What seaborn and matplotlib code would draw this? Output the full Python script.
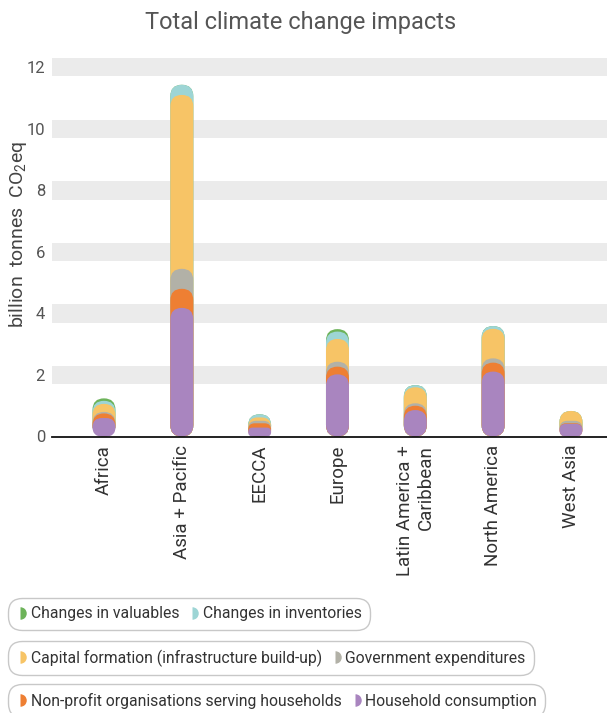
import numpy as np
import pandas as pd
import matplotlib
matplotlib.use("Agg")
import matplotlib.pyplot as plt
import seaborn as sns
from matplotlib.patches import FancyBboxPatch
from matplotlib.lines import Line2D

# ---------------- data ----------------
categories = ["Africa", "Asia + Pacific", "EECCA", "Europe",
              "Latin America +\nCaribbean", "North America", "West Asia"]
household = [0.60, 4.18, 0.29, 2.02, 0.86, 2.11, 0.41]
nonprofit = [0.15, 0.62, 0.14, 0.25, 0.14, 0.29, 0.02]
government = [0.05, 0.65, 0.08, 0.16, 0.08, 0.14, 0.08]
capital = [0.26, 5.65, 0.11, 0.74, 0.52, 0.96, 0.32]
inventories = [0.10, 0.33, 0.10, 0.24, 0.07, 0.09, 0.00]
valuables = [0.08, 0.00, 0.00, 0.08, 0.00, 0.00, 0.00]

series_names = ["Household consumption", "Non-profit organisations serving households",
                "Government expenditures", "Capital formation (infrastructure build-up)",
                "Changes in inventories", "Changes in valuables"]
series_values = [household, nonprofit, government, capital, inventories, valuables]
series_colors = ["#a985bf", "#ee7f33", "#b2b1a7", "#f7c466", "#9dd5d5", "#6db35a"]
yticks = [0, 2, 4, 6, 8, 10, 12]

# ---------------- style ----------------
sns.set_style("white")
plt.rcParams["font.family"] = ["Roboto", "DejaVu Sans"]
plt.rcParams["mathtext.fontset"] = "custom"
plt.rcParams["mathtext.rm"] = "Roboto"
plt.rcParams["mathtext.it"] = "Roboto"

W, H = 607, 713
fig = plt.figure(figsize=(W / 100, H / 100), dpi=100)
ax_left, ax_right, ax_top, ax_bottom = 52, 607, 58, 436.5
ax = fig.add_axes([ax_left / W, 1 - ax_bottom / H, (ax_right - ax_left) / W, (ax_bottom - ax_top) / H])

# cumulative stacks, drawn from tallest to shortest
cum = np.cumsum(np.array(series_values), axis=0)
for i in range(len(series_values) - 1, -1, -1):
    df = pd.DataFrame({"region": categories, "value": cum[i]})
    sns.barplot(data=df, x="region", y="value", order=categories, color=series_colors[i],
                saturation=1, width=0.295, errorbar=None, ax=ax, zorder=3 + (6 - i))

xlim = (-0.668, 6.463)
ylim = (0, 12.3)
ax.set_xlim(*xlim)
ax.set_ylim(*ylim)

# rounded bars
pxx = (ax_right - ax_left) / (xlim[1] - xlim[0])
pxy = (ax_bottom - ax_top) / (ylim[1] - ylim[0])
aspect = pxx / pxy
for p in list(ax.patches):
    x, y, w, h = p.get_x(), p.get_y(), p.get_width(), p.get_height()
    fc, z = p.get_facecolor(), p.get_zorder()
    p.remove()
    if h <= 0:
        continue
    r_px = min(w * pxx / 2, h * pxy / 2)
    fb = FancyBboxPatch((x, y), w, h,
                        boxstyle=f"round,pad=0,rounding_size={r_px / pxx}",
                        mutation_aspect=aspect, facecolor=fc, edgecolor="none",
                        zorder=z)
    ax.add_patch(fb)

# background bands
for v in yticks[1:]:
    ax.axhspan(v - 0.3, v + 0.3, color="#ebebeb", zorder=0, lw=0)

ax.set_yticks(yticks)
ax.set_yticklabels([str(v) for v in yticks], fontsize=12, color="#555555")
ax.tick_params(axis="both", length=0)
ax.tick_params(axis="y", pad=5)
ax.set_xticks(range(len(categories)))
ax.set_xticklabels(categories, rotation=90, fontsize=13.5, color="#333333",
                   va="top", ha="center", multialignment="right")
ax.tick_params(axis="x", pad=6)
ax.set_xlabel("")
ax.set_ylabel("")
for s in ["top", "right", "left"]:
    ax.spines[s].set_visible(False)
ax.spines["bottom"].set_color("#111111")
ax.spines["bottom"].set_linewidth(1.3)
ax.spines["bottom"].set_zorder(20)

fig.text(18 / W, 1 - 235 / H, "billion  tonnes  CO$_2$eq", rotation=90,
         ha="center", va="center", fontsize=14, color="#444444")
fig.text(301 / W, 1 - 23 / H, "Total climate change impacts", ha="center", va="center",
         fontsize=17, color="#555555")

# legends
def handle(c):
    return Line2D([], [], linestyle="none", marker="o", fillstyle="right",
                  markerfacecolor=c, markerfacecoloralt=(1, 1, 1, 0),
                  markeredgewidth=0, markersize=9)

rows = [(5, 4, 601), (3, 2, 644), (1, 0, 687)]
for a, b, ytop in rows:
    leg = fig.legend([handle(series_colors[a]), handle(series_colors[b])],
                     [series_names[a], series_names[b]],
                     loc="upper left", bbox_to_anchor=(11 / W, 1 - ytop / H),
                     ncol=2, frameon=True, handlelength=0.5,
                     prop={"family": ["Roboto", "DejaVu Sans"], "size": 11.3},
                     handletextpad=0.4, columnspacing=0.6, borderpad=0.35,
                     borderaxespad=0, labelcolor="#333333")
    fr = leg.get_frame()
    fr.set_boxstyle("round", pad=0.2, rounding_size=0.9)
    fr.set_edgecolor("#bbbbbb")
    fr.set_linewidth(1)

fig.savefig("out.png", dpi=100)
